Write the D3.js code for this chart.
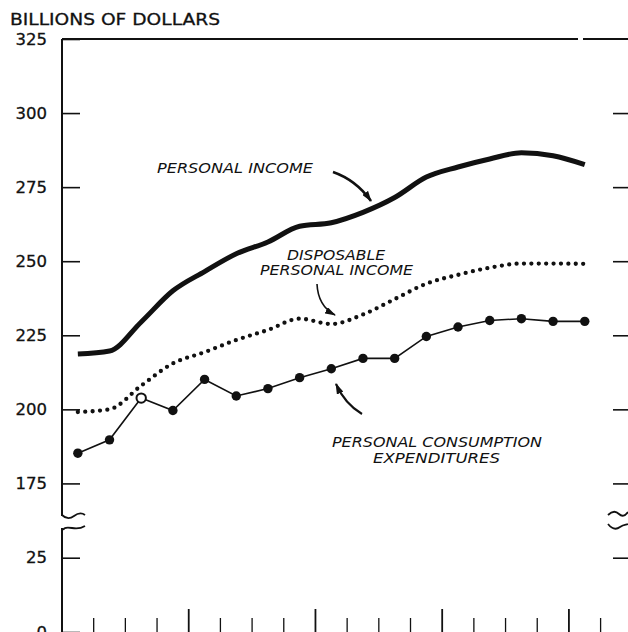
<!DOCTYPE html>
<html>
<head>
<meta charset="utf-8">
<script src="https://cdn.jsdelivr.net/npm/d3@7"></script>
<style>
  body { margin: 0; background: #fff; }
  svg { display: block; }
  text { font-family: "DejaVu Sans", Arial, sans-serif; fill: #111; }
</style>
</head>
<body>
<div id="chart"></div>
<script>
// quarterly, seasonally adjusted annual rates (1950 I - 1954 I)
const quarters = ["1950-I","1950-II","1950-III","1950-IV","1951-I","1951-II","1951-III","1951-IV",
  "1952-I","1952-II","1952-III","1952-IV","1953-I","1953-II","1953-III","1953-IV","1954-I"];
const personalIncome = [218.7, 219.7, 229.5, 240.0, 246.5, 252.5, 256.5, 261.8, 263.0,
  266.5, 271.5, 278.4, 281.8, 284.5, 286.6, 285.6, 282.6];
const disposableIncome = [199.1, 200.0, 208.0, 215.5, 219.3, 223.4, 226.8, 230.6, 228.8,
  232.0, 237.2, 242.4, 245.4, 247.8, 249.2, 249.2, 249.1];
const consumption = [185.2, 189.7, 203.8, 199.6, 210.1, 204.5, 207.0, 210.7, 213.7,
  217.2, 217.2, 224.6, 227.8, 230.0, 230.6, 229.7, 229.7];
const yTicks = [0, 25, 175, 200, 225, 250, 275, 300, 325];

const width = 628, height = 632;
const svg = d3.select("#chart").append("svg")
  .attr("width", width).attr("height", height);

// broken axis: 35..164 squeezed into the gap
const y = d3.scaleLinear().domain([0, 35, 164, 325]).range([632, 528, 516, 39]);
const x = d3.scaleBand().domain(quarters).range([62, 600.6]);
const cx = d => x(d) + x.bandwidth() / 2;

// arrowhead
svg.append("defs").append("marker")
  .attr("id", "arrow").attr("viewBox", "0 0 11 7")
  .attr("refX", 10).attr("refY", 3.5)
  .attr("markerWidth", 11).attr("markerHeight", 7)
  .attr("markerUnits", "userSpaceOnUse").attr("orient", "auto")
  .append("path").attr("d", "M0,0L11,3.5L0,7Z").attr("fill", "#111");

// title
svg.append("text").attr("x", 10).attr("y", 25)
  .attr("font-size", 16).attr("textLength", 210).attr("lengthAdjust", "spacingAndGlyphs")
  .attr("stroke", "#111").attr("stroke-width", 0.3)
  .text("BILLIONS OF DOLLARS");

// left axis (ticks point into the plot)
const left = svg.append("g").attr("transform", "translate(62,0)")
  .call(d3.axisLeft(y).tickValues(yTicks).tickSizeInner(-18).tickSizeOuter(0).tickPadding(15));
left.select(".domain").remove();
left.selectAll(".tick line").attr("stroke", "#111").attr("stroke-width", 1.6);
left.selectAll(".tick text").attr("font-size", 16.5).attr("fill", "#111")
  .attr("stroke", "#111").attr("stroke-width", 0.3)
  .style("font-family", "'DejaVu Sans', Arial, sans-serif");

// right-side tick stubs
const right = svg.append("g").attr("transform", "translate(613,0)")
  .call(d3.axisRight(y).tickValues(yTicks.filter(v => v > 0 && v < 325)).tickSize(15).tickFormat(""));
right.select(".domain").remove();
right.selectAll(".tick line").attr("stroke", "#111").attr("stroke-width", 1.6);

// frame: left spine in two pieces, top line
const frame = svg.append("g").attr("fill", "none").attr("stroke", "#111").attr("stroke-width", 2);
frame.append("line").attr("x1", 62).attr("x2", 62).attr("y1", y(325)).attr("y2", y(164));
frame.append("line").attr("x1", 62).attr("x2", 62).attr("y1", y(35)).attr("y2", y(0));
frame.append("line").attr("x1", 62).attr("x2", 578).attr("y1", y(325)).attr("y2", y(325));
frame.append("line").attr("x1", 583).attr("x2", 628).attr("y1", y(325)).attr("y2", y(325));

// break squiggles
const brk = svg.append("g").attr("fill", "none").attr("stroke", "#111").attr("stroke-width", 1.8);
brk.append("path").attr("d", "M62,515 C66,519 70,519 74,516 S81,512 85,515");
brk.append("path").attr("d", "M63,530 C64,527 67,527 72,528 S80,529 85,526");
brk.append("path").attr("d", "M608,515 C612,511 616,511 619,514 S625,516 628,512");
brk.append("path").attr("d", "M608,524 C612,529 616,530 620,527 S626,525 628,524");

// quarter ticks along the bottom, taller at the start of each year
const bottomTicks = quarters.slice(1).map(q => ({ pos: x(q), tall: q.endsWith("-I") }))
  .concat([{ pos: x.range()[1], tall: false }]);
svg.append("g").selectAll("line").data(bottomTicks).join("line")
  .attr("x1", d => d.pos).attr("x2", d => d.pos)
  .attr("y1", d => y(0) - (d.tall ? 23 : 14)).attr("y2", y(0))
  .attr("stroke", "#111").attr("stroke-width", d => d.tall ? 1.8 : 1.3);

// personal income: heavy line
svg.append("path").datum(personalIncome)
  .attr("fill", "none").attr("stroke", "#111").attr("stroke-width", 5)
  .attr("stroke-linejoin", "round")
  .attr("d", d3.line().x((d, i) => cx(quarters[i])).y(d => y(d)).curve(d3.curveMonotoneX));

// disposable income: dotted line
svg.append("path").datum(disposableIncome)
  .attr("fill", "none").attr("stroke", "#111").attr("stroke-width", 4.3)
  .attr("stroke-linecap", "round").attr("stroke-dasharray", "0,7.4")
  .attr("d", d3.line().x((d, i) => cx(quarters[i])).y(d => y(d)).curve(d3.curveMonotoneX));

// consumption: thin line with dots
svg.append("path").datum(consumption)
  .attr("fill", "none").attr("stroke", "#111").attr("stroke-width", 1.6)
  .attr("d", d3.line().x((d, i) => cx(quarters[i])).y(d => y(d)));
svg.append("g").selectAll("circle").data(consumption).join("circle")
  .attr("cx", (d, i) => cx(quarters[i])).attr("cy", d => y(d)).attr("r", 4.7)
  .attr("fill", (d, i) => i === 2 ? "#fff" : "#111")
  .attr("stroke", "#111").attr("stroke-width", (d, i) => i === 2 ? 2 : 0);

// labels and arrows
const labels = [
  { text: "PERSONAL INCOME", x: 157, y: 173, len: 156 },
  { text: "DISPOSABLE", x: 287, y: 260, len: 98 },
  { text: "PERSONAL INCOME", x: 260, y: 275, len: 153 },
  { text: "PERSONAL CONSUMPTION", x: 332, y: 447, len: 210 },
  { text: "EXPENDITURES", x: 373, y: 463, len: 127 }
];
svg.append("g").selectAll("text").data(labels).join("text")
  .attr("x", d => d.x).attr("y", d => d.y)
  .attr("font-size", 14).attr("font-style", "italic")
  .attr("textLength", d => d.len).attr("lengthAdjust", "spacingAndGlyphs")
  .text(d => d.text);

const arrows = [
  { d: "M333,172 Q356,180 371,201", w: 2.6 },
  { d: "M317,284 Q318,306 335,315", w: 1.6 },
  { d: "M362,414 Q345,404 336,384", w: 2.2 }
];
svg.append("g").selectAll("path").data(arrows).join("path")
  .attr("d", d => d.d).attr("fill", "none").attr("stroke", "#111")
  .attr("stroke-width", d => d.w).attr("marker-end", "url(#arrow)");
</script>
</body>
</html>
